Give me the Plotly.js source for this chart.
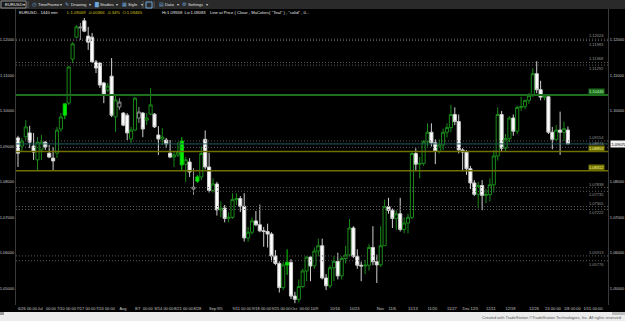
<!DOCTYPE html>
<html><head><meta charset="utf-8">
<script src="https://cdn.plot.ly/plotly-3.0.1.min.js"></script>
<style>html,body{margin:0;padding:0;background:#000;overflow:hidden}#chart{width:625px;height:321px}</style>
</head><body><div id="chart"></div>
<script>
// ---------- data ----------
const dates = [
'2023-06-26','2023-06-27','2023-06-28','2023-06-29','2023-06-30',
'2023-07-03','2023-07-04','2023-07-05','2023-07-06','2023-07-07',
'2023-07-10','2023-07-11','2023-07-12','2023-07-13','2023-07-14',
'2023-07-17','2023-07-18','2023-07-19','2023-07-20','2023-07-21',
'2023-07-24','2023-07-25','2023-07-26','2023-07-27','2023-07-28',
'2023-07-31','2023-08-01','2023-08-02','2023-08-03','2023-08-04',
'2023-08-07','2023-08-08','2023-08-09','2023-08-10','2023-08-11',
'2023-08-14','2023-08-15','2023-08-16','2023-08-17','2023-08-18',
'2023-08-21','2023-08-22','2023-08-23','2023-08-24','2023-08-25',
'2023-08-28','2023-08-29','2023-08-30','2023-08-31','2023-09-01',
'2023-09-04','2023-09-05','2023-09-06','2023-09-07','2023-09-08',
'2023-09-11','2023-09-12','2023-09-13','2023-09-14','2023-09-15',
'2023-09-18','2023-09-19','2023-09-20','2023-09-21','2023-09-22',
'2023-09-25','2023-09-26','2023-09-27','2023-09-28','2023-09-29',
'2023-10-02','2023-10-03','2023-10-04','2023-10-05','2023-10-06',
'2023-10-09','2023-10-10','2023-10-11','2023-10-12','2023-10-13',
'2023-10-16','2023-10-17','2023-10-18','2023-10-19','2023-10-20',
'2023-10-23','2023-10-24','2023-10-25','2023-10-26','2023-10-27',
'2023-10-30','2023-10-31','2023-11-01','2023-11-02','2023-11-03',
'2023-11-06','2023-11-07','2023-11-08','2023-11-09','2023-11-10',
'2023-11-13','2023-11-14','2023-11-15','2023-11-16','2023-11-17',
'2023-11-20','2023-11-21','2023-11-22','2023-11-23','2023-11-24',
'2023-11-27','2023-11-28','2023-11-29','2023-11-30','2023-12-01',
'2023-12-04','2023-12-05','2023-12-06','2023-12-07','2023-12-08',
'2023-12-11','2023-12-12','2023-12-13','2023-12-14','2023-12-15',
'2023-12-18','2023-12-19','2023-12-20','2023-12-21','2023-12-22',
'2023-12-25','2023-12-26','2023-12-27','2023-12-28','2023-12-29',
'2024-01-01','2024-01-02','2024-01-03','2024-01-04','2024-01-05',
'2024-01-08','2024-01-09'];

const openP = [
1.0924,1.0901,1.0927,1.0938,1.0901, 1.0862,1.0890,1.0912,1.0881,1.0867,
1.0881,1.0949,1.0988,1.1022,1.1146, 1.1208,1.1234,1.1254,1.1211,1.1208,
1.1138,1.1135,1.1079,1.1059,1.1098, 1.0983,1.1011,1.0994,1.0988,1.0921,
1.0946,1.0980,1.0994,1.0974,1.0991, 1.0991,1.0932,1.0921,1.0918,1.0881,
1.0870,1.0876,1.0915,1.0850,1.0856, 1.0780,1.0802,1.0814,1.0920,1.0842,
1.0776,1.0794,1.0721,1.0726,1.0697, 1.0700,1.0750,1.0753,1.0731,1.0642,
1.0658,1.0690,1.0679,1.0662,1.0660, 1.0653,1.0591,1.0570,1.0502,1.0566,
1.0573,1.0478,1.0469,1.0505,1.0549, 1.0588,1.0563,1.0605,1.0620,1.0529,
1.0507,1.0558,1.0576,1.0535,1.0584, 1.0594,1.0670,1.0590,1.0565,1.0563,
1.0565,1.0615,1.0575,1.0566,1.0620, 1.0730,1.0720,1.0697,1.0710,1.0666,
1.0684,1.0700,1.0880,1.0850,1.0852, 1.0913,1.0940,1.0910,1.0886,1.0904,
1.0940,1.0953,1.0990,1.0970,1.0890, 1.0884,1.0837,1.0797,1.0765,1.0790,
1.0762,1.0764,1.0792,1.0873,1.0990, 1.0895,1.0922,1.0980,1.0943,1.1010,
1.1012,1.1030,1.1043,1.1105,1.1060, 1.1039,1.1040,1.0940,1.0920,1.0946,
1.0940,1.0946];
const highP = [
1.0930,1.0924,1.0974,1.0958,1.0938, 1.0926,1.0932,1.0915,1.0904,1.0898,
1.0955,1.0994,1.1020,1.1126,1.1194, 1.1242,1.1248,1.1262,1.1237,1.1220,
1.1144,1.1138,1.1082,1.1079,1.1149, 1.1045,1.1036,1.0997,1.0994,1.0955,
1.1039,1.1011,1.0997,1.0994,1.1065, 1.0994,1.0957,1.0952,1.0924,1.0918,
1.0884,1.0912,1.0926,1.0870,1.0867, 1.0839,1.0819,1.0900,1.0945,1.0882,
1.0810,1.0800,1.0745,1.0735,1.0714, 1.0768,1.0768,1.0760,1.0768,1.0673,
1.0700,1.0718,1.0736,1.0673,1.0682, 1.0658,1.0608,1.0576,1.0575,1.0610,
1.0582,1.0490,1.0525,1.0555,1.0590, 1.0590,1.0615,1.0640,1.0640,1.0540,
1.0565,1.0590,1.0600,1.0590,1.0620, 1.0695,1.0675,1.0610,1.0575,1.0580,
1.0625,1.0675,1.0595,1.0675,1.0750, 1.0755,1.0725,1.0720,1.0755,1.0700,
1.0710,1.0888,1.0895,1.0870,1.0918, 1.0965,1.0965,1.0920,1.0920,1.0950,
1.0965,1.1017,1.1010,1.0990,1.0895, 1.0890,1.0845,1.0805,1.0800,1.0805,
1.0780,1.0810,1.0890,1.1010,1.1000, 1.0935,1.0985,1.0990,1.1015,1.1040,
1.1030,1.1050,1.1120,1.1140,1.1085, 1.1045,1.1045,1.0955,1.0960,1.0998,
1.0970,1.0956];
const lowP = [
1.0842,1.0887,1.0918,1.0895,1.0862, 1.0833,1.0862,1.0890,1.0867,1.0833,
1.0867,1.0941,1.0977,1.1017,1.1135, 1.1206,1.1200,1.1222,1.1172,1.1135,
1.1107,1.1065,1.1022,1.1053,1.0983, 1.0941,1.1003,1.0957,1.0918,1.0910,
1.0943,1.0966,1.0926,1.0960,1.0988, 1.0952,1.0876,1.0904,1.0895,1.0867,
1.0842,1.0870,1.0833,1.0800,1.0814, 1.0763,1.0797,1.0805,1.0835,1.0770,
1.0770,1.0705,1.0700,1.0686,1.0686, 1.0696,1.0735,1.0715,1.0632,1.0631,
1.0652,1.0675,1.0658,1.0617,1.0615, 1.0575,1.0565,1.0488,1.0495,1.0538,
1.0470,1.0458,1.0460,1.0500,1.0520, 1.0520,1.0555,1.0590,1.0525,1.0495,
1.0500,1.0520,1.0525,1.0525,1.0570, 1.0590,1.0585,1.0555,1.0520,1.0540,
1.0550,1.0565,1.0515,1.0560,1.0620, 1.0710,1.0670,1.0665,1.0660,1.0655,
1.0655,1.0695,1.0830,1.0810,1.0845, 1.0900,1.0900,1.0850,1.0880,1.0890,
1.0925,1.0940,1.0960,1.0880,1.0830, 1.0820,1.0780,1.0760,1.0725,1.0720,
1.0740,1.0745,1.0770,1.0860,1.0885, 1.0885,1.0912,1.0930,1.0935,1.1000,
1.1005,1.1020,1.1040,1.1050,1.1030, 1.1030,1.0935,1.0892,1.0915,1.0876,
1.0915,1.0908];
const closeP = [
1.0881,1.0915,1.0955,1.0912,1.0884, 1.0912,1.0912,1.0898,1.0870,1.0859,
1.0946,1.0983,1.1020,1.1124,1.1189, 1.1237,1.1236,1.1225,1.1194,1.1138,
1.1121,1.1073,1.1048,1.1070,1.0988, 1.1031,1.1025,1.0960,1.0938,1.0946,
1.1036,1.0997,1.0949,1.0980,1.1017, 1.0955,1.0921,1.0926,1.0907,1.0870,
1.0876,1.0884,1.0848,1.0862,1.0828, 1.0785,1.0814,1.0880,1.0842,1.0776,
1.0794,1.0721,1.0726,1.0697,1.0700, 1.0750,1.0753,1.0731,1.0642,1.0658,
1.0690,1.0679,1.0662,1.0660,1.0653, 1.0591,1.0570,1.0502,1.0566,1.0573,
1.0478,1.0469,1.0505,1.0549,1.0588, 1.0563,1.0605,1.0620,1.0529,1.0507,
1.0558,1.0576,1.0535,1.0584,1.0594, 1.0670,1.0590,1.0565,1.0563,1.0565,
1.0615,1.0575,1.0566,1.0620,1.0730, 1.0720,1.0697,1.0710,1.0666,1.0684,
1.0700,1.0880,1.0850,1.0852,1.0913, 1.0940,1.0910,1.0886,1.0904,1.0940,
1.0953,1.0990,1.0970,1.0890,1.0884, 1.0837,1.0797,1.0765,1.0790,1.0762,
1.0764,1.0792,1.0873,1.0990,1.0895, 1.0922,1.0980,1.0943,1.1010,1.1012,
1.1030,1.1043,1.1105,1.1060,1.1039, 1.1040,1.0940,1.0920,1.0946,1.0940,
1.0950,1.0907];

const brightDays = ['2023-07-12','2023-08-23','2023-08-29','2023-09-29'];
const grayDays   = ['2023-07-18','2023-08-01','2023-08-08','2023-08-28'];

// study lines: level and which side of the line its price label sits
const dottedLevels = [1.12024,1.11983,1.11368,1.11292,1.09154,1.08974,1.07838,1.07735,1.07305,1.07222,1.05913,1.05776];
const dottedSides  = ['above','below','above','below','above','above','above','below','above','below','above','below'];
const greenLevels  = [1.10446];
const oliveLevels  = [1.08853,1.08312];

const yTickVals = [1.05,1.06,1.07,1.08,1.09,1.10,1.11,1.12];
const yTickText = ['1.05000','1.06000','1.07000','1.08000','1.09000','1.10000','1.11000','1.12000'];

const xTickDates = ['2023-06-26','2023-07-03','2023-07-10','2023-07-17','2023-07-24','2023-08-01','2023-08-07','2023-08-14','2023-08-21','2023-08-28','2023-09-01','2023-09-05','2023-09-11','2023-09-18','2023-09-25','2023-10-02','2023-10-09','2023-10-16','2023-10-23','2023-11-01','2023-11-06','2023-11-13','2023-11-20','2023-11-27','2023-12-01','2023-12-05','2023-12-11','2023-12-18','2023-12-26','2024-01-01','2024-01-08','2024-01-15'];
const NB = '\u00a0';
const xTickText = ['6/26 00:00','Jul'+NB+NB+NB+'00:00','7/10 00:00','7/17 00:00','7/24 00:00','Aug','8/7'+NB+NB+'00:00','8/14 00:00','8/21 00:00','8/28','Sep','9/5','9/11 00:00','9/18 00:00','9/25 00:00','Oct'+NB+NB+'00:00','10/9','10/16','10/23','Nov','11/6','11/13','11/20','11/27','Dec','12/5','12/11','12/18','12/26',"'24"+NB+'00:00','1/8'+NB+'00:00','1/15'+NB+'00:00'];

// ---------- helpers ----------
const day0 = Date.UTC(2023,5,26);
function bizIndex(d){
  const p = d.split('-').map(Number);
  const diff = Math.round((Date.UTC(p[0],p[1]-1,p[2]) - day0)/86400000);
  const w = Math.floor(diff/7), r = diff%7;
  return w*5 + Math.min(r,5);
}
const xs = dates.map(bizIndex);

function pick(fn){
  const o={x:[],open:[],high:[],low:[],close:[],text:[]};
  dates.forEach((d,i)=>{ if(fn(d,i)){ o.x.push(xs[i]); o.open.push(openP[i]); o.high.push(highP[i]); o.low.push(lowP[i]); o.close.push(closeP[i]); o.text.push(d);} });
  return o;
}
function candle(sub, incLine, incFill, decLine, decFill){
  return Object.assign({type:'candlestick', hoverinfo:'skip', showlegend:false,
    increasing:{line:{color:incLine,width:1},fillcolor:incFill},
    decreasing:{line:{color:decLine,width:1},fillcolor:decFill}}, sub);
}
const isBright = d => brightDays.includes(d);
const isGray = d => grayDays.includes(d);

const traces = [
  candle(pick(d=>!isBright(d)&&!isGray(d)), '#198a19','#000000','#cfcfcf','#ffffff'),
  candle(pick(d=>isGray(d)), '#909090','#000000','#909090','#000000'),
  candle(pick(d=>isBright(d)), '#00d400','#00f000','#00d400','#00f000'),
  {type:'scatter', x:[0], y:[closeP[closeP.length-1]], yaxis:'y2', mode:'markers', marker:{opacity:0}, hoverinfo:'skip', showlegend:false}
];

// ---------- layout ----------
const L=16, R=608, T=9, B=305;
const px = x => (x-L)/(R-L);
const py = y => (B-y)/(B-T);
const P_TOP = 1.12 + (40-T)/3547, P_BOT = 1.12 - (B-40)/3547;
const X0 = -0.513, X1 = 151.28;
const FONT = 'Liberation Sans, Arial, sans-serif';

const shapes = [];
const annotations = [];
function txt(t,x,y,o){ annotations.push(Object.assign({text:t,x:px(x),y:py(y),xref:'paper',yref:'paper',showarrow:false,xanchor:'left',yanchor:'middle',font:{size:4,color:'#d0d0d0',family:FONT}},o||{})); }
function rect(x0,y0,x1,y1,fill,line){ shapes.push({type:'rect',xref:'paper',yref:'paper',x0:px(x0),x1:px(x1),y0:py(y0),y1:py(y1),fillcolor:fill,line:line||{width:0},layer:'below'}); }
function vsep(x){ shapes.push({type:'line',xref:'paper',yref:'paper',x0:px(x),x1:px(x),y0:py(1),y1:py(8),line:{color:'#555',width:1}}); }

// top toolbar
rect(0,0,625,9,'#2a2a2a');
rect(1,1,26,8,'#1a1a1a',{color:'#8a8a8a',width:1});
txt('EURUSD',3,4.6,{font:{size:4.2,color:'#e8e8e8',family:FONT}});
txt('\u25be',21,4.6,{font:{size:4,color:'#e8e8e8',family:FONT}});
vsep(28);
const tb = [['\u25f7',30,'TimeFrame',36,58],['\u270e',63,'Drawing',69,87],['\u2587',92,'Studies',98,114],['\u25a6',120,'Style',126,139],['\u25a4',157,'Data',163,175],['\u2699',180,'Settings',186,204]];
tb.forEach(t=>{ txt(t[0],t[1],4.6,{font:{size:4.5,color:'#6fa8dc',family:FONT}}); txt(t[2],t[3],4.6,{font:{size:4.2,color:'#e0e0e0',family:FONT}}); txt('\u25be',t[4],4.8,{font:{size:3.6,color:'#cfcfcf',family:FONT}}); });
vsep(143);
rect(146,2,152,8,'#2a2a2a',{color:'#6fa8dc',width:1});
vsep(154);

// info line
txt('EURUSD - 1440 min',17,12.8,{font:{size:4.2,color:'#e6e6e6',family:FONT}});
txt('L:1.09069'+NB+NB+'-0.00366'+NB+NB+'-0.34%'+NB+NB+'O:1.09465',65,12.8,{font:{size:4.2,color:'#d6c21a',family:FONT}});
txt('Hi:1.09558'+NB+NB+'Lo:1.09083',160,12.8,{font:{size:4.2,color:'#e6e6e6',family:FONT}});
txt('Line at Price ( Close , MaColors( "Teal" ) , "solid" , 0...',208,12.8,{font:{size:4.2,color:'#e6e6e6',family:FONT}});

function levelLabel(v, side, extra){
  annotations.push(Object.assign({text:v.toFixed(5),x:px(605),y:v,xref:'paper',yref:'y',showarrow:false,xanchor:'right',yanchor:side==='below'?'top':'bottom',borderpad:0,font:{size:4,color:'#9a9a9a',family:FONT}}, extra||{}));
}
// study lines
dottedLevels.forEach((v,i)=>{
  shapes.push({type:'line',xref:'paper',yref:'y',x0:0,x1:1,y0:v,y1:v,line:{color:'#5a5a5a',width:1,dash:'1px,2px'}});
  levelLabel(v, dottedSides[i]);
});
greenLevels.forEach(v=>{
  shapes.push({type:'line',xref:'paper',yref:'y',x0:0,x1:1,y0:v,y1:v,line:{color:'#1d6e1d',width:2}});
  levelLabel(v,'above',{bgcolor:'#1d6e1d',font:{size:4,color:'#bff0bf',family:FONT}});
});
const lastClose = closeP[closeP.length-1];
shapes.push({type:'line',xref:'paper',yref:'y',x0:0,x1:1,y0:lastClose,y1:lastClose,line:{color:'#1f5f5f',width:1}});
oliveLevels.forEach(v=>{
  shapes.push({type:'line',xref:'paper',yref:'y',x0:0,x1:1,y0:v,y1:v,line:{color:'#707000',width:1.5}});
  levelLabel(v,'above',{bgcolor:'#707000',font:{size:4,color:'#ffff90',family:FONT}});
});
// current price box on right axis
annotations.push({text:lastClose.toFixed(5),x:px(R+2),y:lastClose,xref:'paper',yref:'y',showarrow:false,xanchor:'left',yanchor:'middle',bgcolor:'#f2f2f2',borderpad:0.5,font:{size:4,color:'#000',family:FONT}});

// footer
rect(0,312,625,321,'#ececec');
rect(0,312,4,315,'#9a9a9a');
rect(612,312,625,315,'#bdbdbd');
txt('Created with TradeStation \u00a9TradeStation Technologies, Inc. All rights reserved',623,317.5,{xanchor:'right',font:{size:4,color:'#555',family:FONT}});

const yax = {range:[P_BOT,P_TOP], autorange:false, tickvals:yTickVals, ticktext:yTickText, showgrid:false, zeroline:false, showline:true, linecolor:'#3a3a3a', linewidth:1, ticks:'', tickfont:{size:4,color:'#c8c8c8',family:FONT}, fixedrange:true};
// on the right axis the 1.09000 label sits under the current-price box
const rightVals = yTickVals.filter(v => Math.abs(v - lastClose) > 0.003);
const rightText = rightVals.map(v => yTickText[yTickVals.indexOf(v)]);

const layout = {
  width:625, height:321,
  margin:{l:L, r:625-R, t:T, b:321-B, pad:0},
  paper_bgcolor:'#000', plot_bgcolor:'#000',
  showlegend:false, boxgap:0.2, boxgroupgap:0,
  xaxis:{type:'linear', range:[X0,X1], autorange:false, tickvals:xTickDates.map(bizIndex), ticktext:xTickText, ticks:'', showgrid:false, zeroline:false, showline:false, rangeslider:{visible:false}, ticklabelposition:'outside right', tickangle:0, tickfont:{size:4,color:'#c8c8c8',family:FONT}, fixedrange:true},
  yaxis:yax,
  yaxis2:Object.assign({}, yax, {overlaying:'y', side:'right', tickvals:rightVals, ticktext:rightText}),
  shapes:shapes, annotations:annotations
};
Plotly.newPlot('chart', traces, layout, {displayModeBar:false, staticPlot:true});
</script></body></html>
